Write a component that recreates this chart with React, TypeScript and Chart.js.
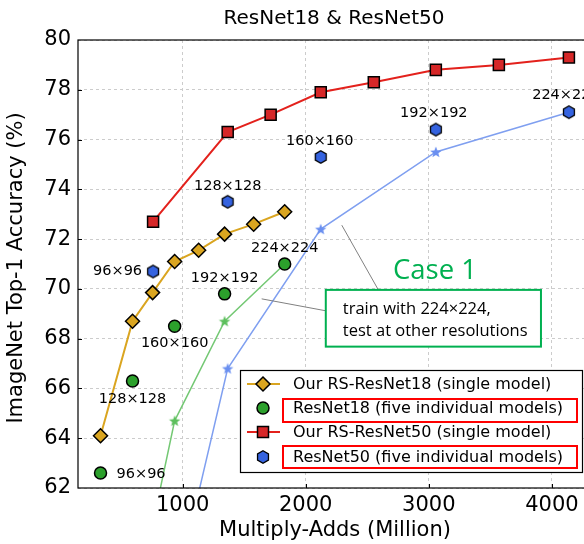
import React, { useEffect, useRef } from 'react';
import { Chart, registerables } from 'chart.js';

Chart.register(...registerables);

// ---------- data ----------
const resolutions = ['96×96', '128×128', '160×160', '192×192', '224×224'];
const xTicks = [1000, 2000, 3000, 4000];

const rs18Flops = [333, 593, 756, 935, 1130, 1341, 1577, 1829];
const rs18Acc = [64.1, 68.7, 69.85, 71.1, 71.55, 72.2, 72.6, 73.1];

const r18Flops = [333, 593, 935, 1341, 1829];
const r18Acc = [62.6, 66.3, 68.5, 69.8, 71.0];
const r18TestAcc = [45.0, 56.7, 64.7, 68.7, 71.0];

const rs50Flops = [760, 1366, 1715, 2122, 2553, 3057, 3569, 4138];
const rs50Acc = [72.7, 76.3, 77.0, 77.9, 78.3, 78.8, 79.0, 79.3];

const r50Flops = [760, 1366, 2122, 3057, 4138];
const r50Acc = [70.7, 73.5, 75.3, 76.4, 77.1];
const r50TestAcc = [54.0, 66.8, 72.4, 75.5, 77.1];

const legendLabels = [
  'Our RS-ResNet18 (single model)',
  'ResNet18 (five individual models)',
  'Our RS-ResNet50 (single model)',
  'ResNet50 (five individual models)',
];

const GOLD = '#DAA520';
const GREEN = '#2CA02C';
const LGREEN = '#74C874';
const RED = '#D62728';
const RLINE = '#E3211C';
const BLUE = '#3563E0';
const LBLUE = '#7F9FF0';
const FONT = "'DejaVu Sans', sans-serif";

// ---------- marker helpers ----------
function hexPath(ctx: CanvasRenderingContext2D, cx: number, cy: number, r: number) {
  ctx.beginPath();
  for (let k = 0; k < 6; k++) {
    const a = -Math.PI / 2 + (k * Math.PI) / 3;
    const x = cx + r * Math.cos(a);
    const y = cy + r * Math.sin(a);
    if (k === 0) ctx.moveTo(x, y);
    else ctx.lineTo(x, y);
  }
  ctx.closePath();
}
function starPath(ctx: CanvasRenderingContext2D, cx: number, cy: number, ro: number, ri: number) {
  ctx.beginPath();
  for (let k = 0; k < 10; k++) {
    const a = -Math.PI / 2 + (k * Math.PI) / 5;
    const r = k % 2 === 0 ? ro : ri;
    const x = cx + r * Math.cos(a);
    const y = cy + r * Math.sin(a);
    if (k === 0) ctx.moveTo(x, y);
    else ctx.lineTo(x, y);
  }
  ctx.closePath();
}
function makeHex(fill: string) {
  const cv = document.createElement('canvas');
  cv.width = 16;
  cv.height = 16;
  const ctx = cv.getContext('2d')!;
  hexPath(ctx, 8, 8, 6.3);
  ctx.fillStyle = fill;
  ctx.fill();
  ctx.lineWidth = 1.3;
  ctx.strokeStyle = '#000';
  ctx.stroke();
  return cv;
}
function makeStar(fill: string) {
  const cv = document.createElement('canvas');
  cv.width = 16;
  cv.height = 16;
  const ctx = cv.getContext('2d')!;
  starPath(ctx, 8, 8.5, 6, 2.6);
  ctx.fillStyle = fill;
  ctx.fill();
  return cv;
}

// label placement (pixel offsets from the point)
const r18LabelPos = [
  { dx: 16, dy: 1, align: 'left' },
  { dx: 0, dy: 18, align: 'center' },
  { dx: 0, dy: 17, align: 'center' },
  { dx: 0, dy: -16, align: 'center' },
  { dx: 0, dy: -16, align: 'center' },
];
const r50LabelPos = [
  { dx: -11, dy: 0, align: 'right' },
  { dx: 0, dy: -16, align: 'center' },
  { dx: -1, dy: -16, align: 'center' },
  { dx: -2, dy: -16, align: 'center' },
  { dx: -3, dy: -17, align: 'center' },
];

export default function App() {
  const ref = useRef<HTMLCanvasElement | null>(null);

  useEffect(() => {
    const canvas = ref.current!;
    const hexBlue = makeHex(BLUE);
    const starGreen = makeStar('#5CBF5C');
    const starBlue = makeStar('#6A8FF0');

    const drawDiamond = (ctx: CanvasRenderingContext2D, x: number, y: number, r: number, fill: string) => {
      ctx.beginPath();
      ctx.moveTo(x, y - r);
      ctx.lineTo(x + r, y);
      ctx.lineTo(x, y + r);
      ctx.lineTo(x - r, y);
      ctx.closePath();
      ctx.fillStyle = fill;
      ctx.fill();
      ctx.lineWidth = 1.5;
      ctx.strokeStyle = '#000';
      ctx.stroke();
    };

    const decor = {
      id: 'decor',
      afterDraw(chart: any) {
        const ctx: CanvasRenderingContext2D = chart.ctx;
        const a = chart.chartArea;
        const xs = chart.scales.x;
        const ys = chart.scales.y;
        ctx.save();

        // frame
        ctx.strokeStyle = '#000';
        ctx.lineWidth = 1.2;
        ctx.strokeRect(a.left, a.top, a.right - a.left, a.bottom - a.top);
        // inward ticks
        ctx.lineWidth = 1;
        xTicks.forEach((v) => {
          const px = Math.round(xs.getPixelForValue(v)) + 0.5;
          ctx.beginPath();
          ctx.moveTo(px, a.bottom);
          ctx.lineTo(px, a.bottom - 4);
          ctx.stroke();
        });
        for (let v = 64; v < 80; v += 2) {
          const py = Math.round(ys.getPixelForValue(v)) + 0.5;
          ctx.beginPath();
          ctx.moveTo(a.left, py);
          ctx.lineTo(a.left + 4, py);
          ctx.stroke();
        }

        // title & axis titles
        ctx.fillStyle = '#000';
        ctx.font = `20px ${FONT}`;
        ctx.textAlign = 'center';
        ctx.textBaseline = 'middle';
        ctx.fillText('ResNet18 & ResNet50', 334, 19);
        ctx.font = `21px ${FONT}`;
        ctx.fillText('Multiply-Adds (Million)', 335, 531);
        ctx.save();
        ctx.translate(17, 268);
        ctx.rotate(-Math.PI / 2);
        ctx.fillText('ImageNet Top-1 Accuracy (%)', 0, 0);
        ctx.restore();

        // point labels
        ctx.font = `14.5px ${FONT}`;
        ctx.fillStyle = '#000';
        ctx.textBaseline = 'middle';
        r18Flops.forEach((f, i) => {
          const p = r18LabelPos[i];
          ctx.textAlign = p.align as CanvasTextAlign;
          ctx.fillText(resolutions[i], xs.getPixelForValue(f) + p.dx, ys.getPixelForValue(r18Acc[i]) + p.dy);
        });
        r50Flops.forEach((f, i) => {
          const p = r50LabelPos[i];
          ctx.textAlign = p.align as CanvasTextAlign;
          ctx.fillText(resolutions[i], xs.getPixelForValue(f) + p.dx, ys.getPixelForValue(r50Acc[i]) + p.dy);
        });

        // leader lines (data coords)
        ctx.strokeStyle = '#808080';
        ctx.lineWidth = 1;
        ctx.beginPath();
        ctx.moveTo(xs.getPixelForValue(2293), ys.getPixelForValue(72.56));
        ctx.lineTo(xs.getPixelForValue(2590), ys.getPixelForValue(69.96));
        ctx.moveTo(xs.getPixelForValue(1642), ys.getPixelForValue(69.6));
        ctx.lineTo(xs.getPixelForValue(2163), ys.getPixelForValue(69.12));
        ctx.stroke();

        // annotation box
        const bx1 = xs.getPixelForValue(2163);
        const bx2 = xs.getPixelForValue(3911);
        const by1 = ys.getPixelForValue(69.96);
        const by2 = ys.getPixelForValue(67.68);
        ctx.fillStyle = '#fff';
        ctx.fillRect(bx1, by1, bx2 - bx1, by2 - by1);
        ctx.strokeStyle = '#00B050';
        ctx.lineWidth = 2;
        ctx.strokeRect(bx1, by1, bx2 - bx1, by2 - by1);
        ctx.fillStyle = '#000';
        ctx.font = "16.5px 'Open Sans', sans-serif";
        ctx.textAlign = 'left';
        ctx.fillText('train with 224×224,', bx1 + 17, by1 + 19);
        ctx.fillText('test at other resolutions', bx1 + 17, by1 + 41);

        ctx.fillStyle = '#00B050';
        ctx.font = "27.5px 'Open Sans', sans-serif";
        ctx.textAlign = 'center';
        ctx.fillText('Case 1', xs.getPixelForValue(3050), ys.getPixelForValue(70.72));

        // legend
        const lx = 240, ly = 370, lw = 342, lh = 102;
        ctx.fillStyle = '#fff';
        ctx.fillRect(lx, ly, lw, lh);
        ctx.strokeStyle = '#000';
        ctx.lineWidth = 1.2;
        ctx.strokeRect(lx + 0.5, ly + 0.5, lw, lh);
        const rows = [384, 408, 432, 457];
        const mx = 263;
        // row 1
        ctx.strokeStyle = GOLD;
        ctx.lineWidth = 2;
        ctx.beginPath();
        ctx.moveTo(247, rows[0]);
        ctx.lineTo(280, rows[0]);
        ctx.stroke();
        drawDiamond(ctx, mx, rows[0], 7, GOLD);
        // row 2
        ctx.beginPath();
        ctx.arc(mx, rows[1], 6, 0, Math.PI * 2);
        ctx.fillStyle = GREEN;
        ctx.fill();
        ctx.lineWidth = 1.5;
        ctx.strokeStyle = '#000';
        ctx.stroke();
        // row 3
        ctx.strokeStyle = RLINE;
        ctx.lineWidth = 2;
        ctx.beginPath();
        ctx.moveTo(247, rows[2]);
        ctx.lineTo(280, rows[2]);
        ctx.stroke();
        ctx.fillStyle = RED;
        ctx.fillRect(mx - 5.5, rows[2] - 5.5, 11, 11);
        ctx.lineWidth = 1.5;
        ctx.strokeStyle = '#000';
        ctx.strokeRect(mx - 5.5, rows[2] - 5.5, 11, 11);
        // row 4
        ctx.drawImage(hexBlue, mx - 8, rows[3] - 8);

        ctx.fillStyle = '#000';
        ctx.font = `16px ${FONT}`;
        ctx.textAlign = 'left';
        ctx.textBaseline = 'middle';
        legendLabels.forEach((t, i) => ctx.fillText(t, 293, rows[i] + 1));

        ctx.strokeStyle = '#FF0000';
        ctx.lineWidth = 2;
        ctx.strokeRect(283, 399, 294, 23);
        ctx.strokeRect(283, 446, 294, 22);

        ctx.restore();
      },
    };

    const pts = (xs: number[], ys: number[]) => xs.map((x, i) => ({ x, y: ys[i] }));

    const chart = new Chart(canvas, {
      type: 'line',
      data: {
        datasets: [
          {
            label: 'ResNet18 test',
            data: pts(r18Flops, r18TestAcc),
            borderColor: LGREEN,
            borderWidth: 1.5,
            pointStyle: starGreen as any,
            pointRadius: 5,
            order: 10,
          },
          {
            label: 'ResNet50 test',
            data: pts(r50Flops, r50TestAcc),
            borderColor: LBLUE,
            borderWidth: 1.5,
            pointStyle: starBlue as any,
            pointRadius: 5,
            order: 9,
          },
          {
            label: legendLabels[0],
            data: pts(rs18Flops, rs18Acc),
            borderColor: GOLD,
            borderWidth: 2,
            pointStyle: 'rectRot',
            pointRadius: 7,
            pointBackgroundColor: GOLD,
            pointBorderColor: '#000',
            pointBorderWidth: 1.5,
            order: 5,
          },
          {
            label: legendLabels[2],
            data: pts(rs50Flops, rs50Acc),
            borderColor: RLINE,
            borderWidth: 2,
            pointStyle: 'rect',
            pointRadius: 7.8,
            pointBackgroundColor: RED,
            pointBorderColor: '#000',
            pointBorderWidth: 1.5,
            order: 4,
          },
          {
            label: legendLabels[1],
            data: pts(r18Flops, r18Acc),
            showLine: false,
            pointStyle: 'circle',
            pointRadius: 6,
            pointBackgroundColor: GREEN,
            pointBorderColor: '#000',
            pointBorderWidth: 1.5,
            order: 1,
          },
          {
            label: legendLabels[3],
            data: pts(r50Flops, r50Acc),
            showLine: false,
            pointStyle: hexBlue as any,
            pointRadius: 6,
            order: 0,
          },
        ],
      },
      options: {
        responsive: false,
        animation: false,
        layout: { padding: { left: 0, top: 40, right: 25, bottom: 0 } },
        plugins: { legend: { display: false }, tooltip: { enabled: false }, title: { display: false } },
        scales: {
          x: {
            type: 'linear',
            min: 150,
            max: 4350,
            afterBuildTicks: (s: any) => {
              s.ticks = xTicks.map((v) => ({ value: v }));
            },
            afterFit: (s: any) => {
              s.height = 56;
            },
            ticks: {
              color: '#000',
              font: { family: FONT, size: 21 },
              padding: 5,
              maxRotation: 0,
              autoSkip: false,
              callback: (v: any) => String(v),
            },
            grid: { color: '#cccccc', lineWidth: 1, drawTicks: false },
            border: { display: false, dash: [3, 3] },
          },
          y: {
            type: 'linear',
            min: 62,
            max: 80,
            afterFit: (s: any) => {
              s.width = 78;
            },
            ticks: {
              stepSize: 2,
              color: '#000',
              font: { family: FONT, size: 21 },
              padding: 7,
              callback: (v: any) => String(v),
            },
            grid: { color: '#cccccc', lineWidth: 1, drawTicks: false },
            border: { display: false, dash: [3, 3] },
          },
        },
      },
      plugins: [decor],
    });
    return () => chart.destroy();
  }, []);

  return (
    <div
      style={{
        position: 'fixed',
        left: 0,
        top: 0,
        width: 584,
        height: 544,
        overflow: 'hidden',
        background: '#fff',
      }}
    >
      <canvas ref={ref} width={620} height={544} style={{ display: 'block' }} />
    </div>
  );
}
